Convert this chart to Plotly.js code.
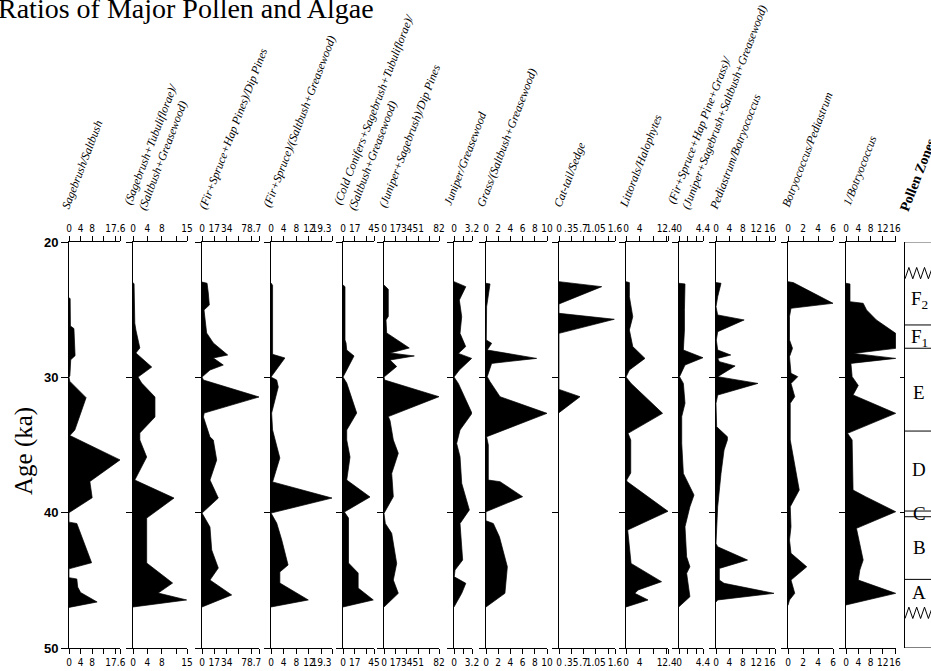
<!DOCTYPE html>
<html><head><meta charset="utf-8">
<script src="https://cdn.plot.ly/plotly-3.0.1.min.js"></script>
<style>html,body{margin:0;padding:0;background:#fff;overflow:hidden}#chart{width:931px;height:671px}</style>
</head><body><div id="chart"></div>
<script>
// ---------------- DATA (ages in ka, ratio values) ----------------
const columnTitles = [
  'Sagebrush/Saltbush',
  '(Sagebrush+Tubuliflorae)/<br>(Saltbush+Greasewood)',
  '(Fir+Spruce+Hap Pines)/Dip Pines',
  '(Fir+Spruce)/(Saltbush+Greasewood)',
  '(Cold Conifers+Sagebrush+Tubuliflorae)/<br>(Saltbush+Greasewood)',
  '(Juniper+Sagebrush)/Dip Pines',
  'Juniper/Greasewood',
  'Grass/(Saltbush+Greasewood)',
  'Cat-tail/Sedge',
  'Littorals/Halophytes',
  '(Fir+Spruce+Hap Pine+Grass)/<br>(Juniper+Sagebrush+Saltbush+Greasewood)',
  'Pediastrum/Botryococcus',
  'Botryococcus/Pediastrum',
  '1/Botryococcus'
];
const axisMax = [17.6, 15, 78.7, 19.3, 45, 82, 3.2, 10, 1.6, 12.4, 4.4, 17.6, 6, 16.3];
const tickVals = [
  [0,4,8,12,16,17.6],[0,4,8,12,15],[0,17,34,51,68,78.7],[0,4,8,12,16,19.3],
  [0,17,34,45],[0,17,34,51,68,82],[0,1.6,3.2],[0,2,4,6,8,10],
  [0,0.35,0.7,1.05,1.4,1.6],[0,4,8,12,12.4],[0,1.6,3.2,4.4],[0,4,8,12,16,17.6],
  [0,2,4,6],[0,4,8,12,16]
];
const tickText = [
  ['0','4','8','','17.6',''],['0','4','8','','15'],['0','17','34','','78.7',''],['0','4','8','12','19.3',''],
  ['0','17','','45'],['0','17','34','51','','82'],['0','','3.2'],['0','2','4','6','8','10'],
  ['0','.35','.7','1.05','','1.6'],['0','4','','12.4',''],['0','','','4.4'],['0','4','8','12','16',''],
  ['0','2','4','6'],['0','4','8','12','16']
];

const sageAge = [24.1,24.2,26.2,26.4,28.4,28.7,29.9,30.0,30.3,31.5,33.9,34.3,36.1,37.7,38.9,40.0,40.7,40.8,43.7,44.15,44.8,44.9,45.5,45.9,46.6,47.0];
const sageVal = [0,0.4,0.5,1.7,2.1,0.6,0.3,0,0.3,5.9,2.0,0.3,17.6,7.2,8.0,0,0,2.7,7.8,0,0,2.7,3.0,4.0,9.7,0];

const tubAge = [23.0,23.1,26.0,26.5,27.83,28.2,29.24,29.98,30.42,31.45,32.93,34.11,34.63,35.89,37.59,38.92,40.4,43.72,45.2,45.94,46.45,46.97];
const tubVal = [0,0.3,0.5,0.8,1.9,0.8,5.2,1.4,2.4,6.1,6.1,1.9,1.9,3.8,0.5,11.4,3.8,3.8,11.0,7.0,14.9,0];

const firAge = [22.96,23.05,23.77,24.66,25.02,26.72,27.46,28.35,28.57,29.09,29.46,29.98,30.2,31.45,32.64,32.93,34.41,34.63,36.11,37.59,38.92,40.03,41.06,42.76,44.09,44.98,46.08,46.97];
const firVal = [0,7,8.7,10.1,2.8,6.4,15.6,35.5,15.6,29.4,11,0,2,78.7,3,2,11,15.6,20.3,11,22.5,0,11,13.4,22.5,11,41,0];

const fsAge = [23.03,23.2,28.3,28.57,29.98,30.2,30.71,32.64,33.89,34.85,35.96,37.73,38.92,40.03,40.77,42.02,43.87,44.38,45.2,46.45,46.97];
const fsVal = [0,0.5,0.5,4.4,0,1.8,2.3,0.2,0.5,1.6,2.8,0.5,19.3,0,1.8,3.4,5.4,2.8,2.8,11.8,0];

const cccAge = [23.18,23.3,27.24,27.46,27.98,28.42,29.46,29.98,30.42,32.64,33.89,34.63,35.89,37.59,38.84,39.95,40.4,43.72,44.46,45.57,46.45,46.97];
const cccVal = [0,2.9,2.9,4.4,5.4,16,5.4,0,5.4,19.9,5.4,5.4,10.2,5.4,39.2,2,8,8,22,22,44,0];

const junsAge = [23.18,23.5,25.5,25.76,26.72,27.83,28.2,28.42,28.72,29.2,29.98,30.2,31.43,32.9,33.2,34.63,35.61,37.1,38.82,39.8,40.05,40.8,41.53,43.75,44.98,45.96,46.97];
const junsVal = [0,6.4,6.4,3,4,37.7,9,45.2,9,18.9,0,1,82,6.4,9,13.9,21.3,11.5,13.9,2,0,2,11.5,18.9,13.9,21.3,0];

const jgAge = [22.93,23.3,24.29,25.52,26.75,27.73,28.23,28.6,29.46,29.98,30.45,32.66,33.89,34.88,35.86,37.83,39.8,40.8,43.5,44.24,44.74,45.22,45.96,46.97];
const jgVal = [0,2.1,0.95,1.37,1.07,2.08,0.77,3.14,0.95,0,0.77,3.2,1.07,0.47,1.07,1.37,2.73,1.07,1.54,0.18,0.05,2.1,1.37,0];

const grassAge = [23.05,23.1,24.78,27.24,27.49,27.98,28.6,28.97,29.95,30.32,31.43,32.66,34.39,35.0,37.59,37.71,38.82,39.93,40.6,40.8,41.78,44.0,45.96,46.97];
const grassVal = [0,0.66,0.1,0.05,0.93,0.2,8.3,0.93,0.2,0.66,2.3,10,0.1,0.38,0.38,2.3,6.0,0,0,1.2,2.2,3.5,3.1,0];

const ctAge = [22.93,23.3,24.58,25.27,25.71,26.75,30.89,31.43,32.61];
const ctVal = [0,1.22,0,0,1.58,0,0,0.6,0];

const litAge = [22.93,23.0,24.04,25.52,26.5,27.73,28.6,29.46,29.98,30.45,32.66,34.14,34.63,37.07,37.59,37.7,39.9,41.28,43.75,45.1,45.71,45.96,46.45,46.97];
const litVal = [0,1.0,1.0,2.0,1.0,2.0,5.6,1.0,0,1.5,10.8,0.6,1.4,1.4,0.2,0.3,12.4,0.5,1.5,10.5,3.6,2.6,6.5,0];

const fsgAge = [23.05,23.1,25.0,26.5,27.98,28.55,29.09,29.95,30.45,31.92,32.9,34.88,37.1,37.59,38.7,39.56,41.04,43.26,44.0,44.48,46.21,46.95];
const fsgVal = [0,1.1,1.0,1.0,0.8,4.4,1.1,0.1,0.8,1.1,0.5,0.5,0.8,1.4,2.75,2.0,1.1,1.4,2.0,1.4,2.0,0];

const pbAge = [23.0,23.05,24.04,24.78,25.39,25.76,26.63,27.24,27.98,28.35,28.6,28.84,29.16,29.7,29.95,30.45,31.31,31.92,33.65,34.39,34.63,35.37,37.1,39.56,42.27,42.52,43.5,44.12,44.98,45.22,45.96,46.45,46.6];
const pbVal = [0,1.5,0.5,0,0.5,8.4,0.5,0.1,0.5,4.4,0.5,1.0,5.7,2.0,0.5,12.5,0.5,0,0.2,3.4,3.4,2.4,1.5,0.5,0,0.5,9.4,1.0,1.0,2.4,17.3,0.5,0];

const bpAge = [22.93,23.0,24.53,24.9,25.5,27.24,27.86,28.47,29.7,29.95,30.45,31.43,31.92,34.63,38.33,39.56,41.04,42.02,43.0,44.0,44.98,45.96,46.45,46.85];
const bpVal = [0,0.7,6.0,0.4,0.2,0.2,0.6,0.2,0.4,1.3,0.4,0.9,0.3,0.3,1.5,0.3,0.4,0.2,0.4,2.5,0.4,0.9,0.2,0];

const invAge = [23.05,23.1,24.41,24.53,25.02,25.76,26.75,27.86,28.23,28.6,28.97,29.95,30.6,31.3,32.66,34.14,34.63,38.33,38.82,39.93,41.16,43.5,44.24,44.98,45.96,46.82];
const invVal = [0,1.3,1.3,5.6,6.7,9.9,16.2,16.2,2.4,16.2,1.6,2.0,4.0,2.3,16.2,0.5,2.0,2.3,6.4,16.2,3.4,5.6,4.5,4.0,16.2,0];

const ageTicks = [20,30,40,50];
const zoneLabels = ['F<sub>2</sub>','F<sub>1</sub>','E','D','C','B','A'];
const zoneLabelAge = [24.3,27.1,31.1,36.8,40.05,42.6,45.9];
const zoneBounds = [26.13,27.85,33.97,39.88,40.3,44.93];
const hiatusAge = [22.3,47.4];

const seriesAge = [sageAge,tubAge,firAge,fsAge,cccAge,junsAge,jgAge,grassAge,ctAge,litAge,fsgAge,pbAge,bpAge,invAge];
const seriesVal = [sageVal,tubVal,firVal,fsVal,cccVal,junsVal,jgVal,grassVal,ctVal,litVal,fsgVal,pbVal,bpVal,invVal];

// ---------------- LAYOUT (pixels) ----------------
const W = 931, H = 671;
const panelLeft  = [69,133,202,271,343,384,454,486,559,626,679,716,788,846];
const panelRight = [120,187,259,332,374,439,472,547,615,668,703,775,833,896];
const titleBL = [[65,212],[142,212],[202,212],[267,210],[352,212],[382,210],[448,208],[480,210],[557,210],[623,210],[685,212],[713,212],[785,210],[847,208]];
const titleShift = [4,-2];
const yTopPx = 242, yBotPx = 648;
const yDom = [1 - yBotPx/H, 1 - yTopPx/H];
const ink = '#000';
const tickFont = {family:'"Liberation Sans Narrow","DejaVu Sans Condensed","Liberation Sans",sans-serif', size:10, color:ink};

const n = columnTitles.length;
const data = [];
const layout = {
  width:W, height:H, margin:{l:0,r:0,t:0,b:0}, showlegend:false,
  paper_bgcolor:'#fff', plot_bgcolor:'rgba(0,0,0,0)',
  annotations:[], shapes:[]
};
const sfx = k => (k===1 ? '' : String(k));

for (let i=0;i<n;i++){
  const k = i+1, kt = n+k;
  const common = {
    range:[0,axisMax[i]], tickmode:'array', tickvals:tickVals[i], ticktext:tickText[i],
    ticks:'outside', ticklen:5, tickwidth:1, tickcolor:ink, showline:true, linecolor:ink, linewidth:1,
    showgrid:false, zeroline:false, tickfont:tickFont, tickangle:0, fixedrange:true
  };
  layout['xaxis'+sfx(k)] = Object.assign({}, common, {domain:[panelLeft[i]/W, panelRight[i]/W], anchor:'y'+sfx(k), side:'bottom'});
  layout['xaxis'+kt] = Object.assign({}, common, {anchor:'y'+sfx(k), overlaying:'x'+sfx(k), side:'top'});
  layout['yaxis'+sfx(k)] = {
    domain:yDom, range:[50,20], anchor:'x'+sfx(k), showline:true, linecolor:ink, linewidth:1,
    ticks:'outside', ticklen:k===1?7:6, tickwidth:1, tickcolor:ink, tickmode:'array', tickvals:ageTicks,
    showticklabels:k===1, showgrid:false, zeroline:false, fixedrange:true,
    tickfont:{family:'"Liberation Sans",Arial,sans-serif', size:13, color:ink, weight:'bold'}
  };
  data.push({type:'scatter', mode:'lines', x:seriesVal[i], y:seriesAge[i], xaxis:'x'+sfx(k), yaxis:'y'+sfx(k),
    fill:'tozerox', fillcolor:ink, line:{color:ink, width:0.7}, hoverinfo:'skip'});
  data.push({type:'scatter', mode:'markers', x:[], y:[], xaxis:'x'+kt, yaxis:'y'+sfx(k), hoverinfo:'skip'});
}

// zone column
const zx = 'x'+(2*n+1), zy = 'y'+(n+1);
layout['xaxis'+(2*n+1)] = {domain:[905/W,1], range:[0,1], anchor:zy, visible:false, fixedrange:true};
layout['yaxis'+(n+1)] = {domain:yDom, range:[50,20], anchor:zx, showline:true, linecolor:ink, linewidth:1,
  ticks:'outside', ticklen:4, tickcolor:ink, tickmode:'array', tickvals:[30,40], showticklabels:false,
  showgrid:false, zeroline:false, fixedrange:true};
[20,50].concat(zoneBounds).forEach((a,j)=>{
  layout.shapes.push({type:'line', xref:zx, yref:zy, x0:0, x1:1.1, y0:a, y1:a,
    line:{color: j===0 ? '#555' : ink, width:1}});
});
hiatusAge.forEach(c=>{
  const xs=[], ys=[];
  for(let j=0;j<9;j++){ xs.push(j*0.15); ys.push(c + (j%2===0 ? 0.42 : -0.42)); }
  data.push({type:'scatter', mode:'lines', x:xs, y:ys, xaxis:zx, yaxis:zy, line:{color:ink,width:1}, hoverinfo:'skip'});
});
zoneLabels.forEach((t,j)=>{
  layout.annotations.push({xref:zx, yref:zy, x:0.54, y:zoneLabelAge[j], text:t, showarrow:false,
    xanchor:'center', yanchor:'middle', font:{family:'"Liberation Serif",serif', size:19, color:ink}});
});

// rotated column headers
const ang = 69, th = ang*Math.PI/180;
const ctx = document.createElement('canvas').getContext('2d');
function placeRotated(text, bl, fs, fontCss, extra){
  ctx.font = fontCss;
  const lines = text.split('<br>');
  const L = Math.max(...lines.map(s=>ctx.measureText(s).width));
  const lh = fs*1.3, hb = lines.length*lh;
  const ux=Math.cos(th), uy=-Math.sin(th), vx=-Math.sin(th), vy=-Math.cos(th);
  const off = hb/2 - 0.28*fs;
  const cx = bl[0] + titleShift[0] + (L/2)*ux + off*vx;
  const cy = bl[1] + titleShift[1] + (L/2)*uy + off*vy;
  layout.annotations.push(Object.assign({xref:'paper', yref:'paper', x:cx/W, y:1-cy/H, text:text,
    showarrow:false, xanchor:'center', yanchor:'middle', textangle:-ang, align:'left'}, extra));
}
const hfs = 11.8;
columnTitles.forEach((t,i)=>{
  placeRotated(t, titleBL[i], hfs, 'italic '+hfs+'px "Liberation Serif"',
    {font:{family:'"Liberation Serif",serif', size:hfs, style:'italic', color:ink}});
});
placeRotated('Pollen Zones', [905,214], 14, 'bold 14px "Liberation Serif"',
  {font:{family:'"Liberation Serif",serif', size:14, weight:'bold', color:ink}});

// titles
layout.annotations.push({xref:'paper', yref:'paper', x:-4/W, y:1-9/H, xanchor:'left', yanchor:'middle',
  text:'Ratios of Major Pollen and Algae', showarrow:false,
  font:{family:'"Liberation Serif","Times New Roman",serif', size:28, color:ink}});
layout.annotations.push({xref:'paper', yref:'paper', x:24/W, y:1-451/H, xanchor:'center', yanchor:'middle',
  text:'Age (ka)', textangle:-90, showarrow:false,
  font:{family:'"Liberation Serif","Times New Roman",serif', size:25, color:ink}});

Plotly.newPlot('chart', data, layout, {staticPlot:true, displayModeBar:false});
</script>
</body></html>
